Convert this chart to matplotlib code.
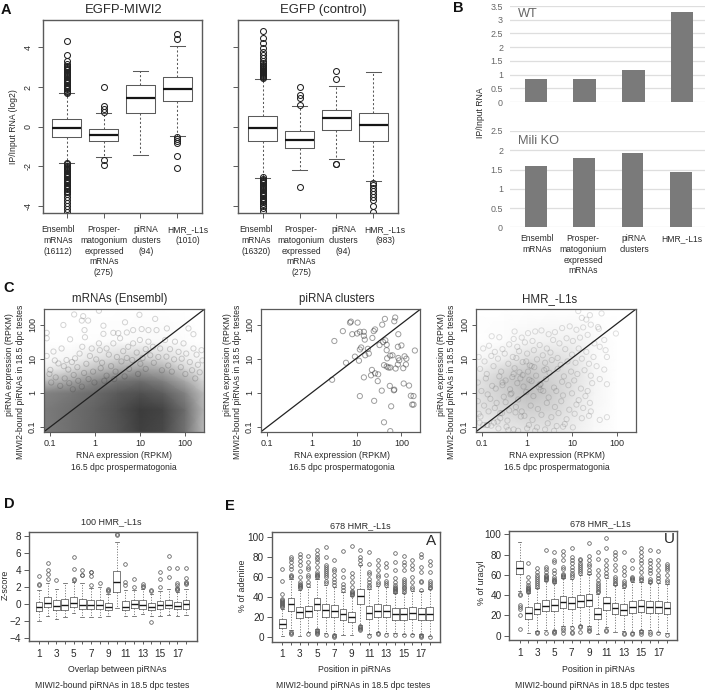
import matplotlib
matplotlib.use('Agg')
import matplotlib.pyplot as plt
from matplotlib.colors import LinearSegmentedColormap
import numpy as np

plt.rcParams['font.family'] = ['Liberation Sans', 'DejaVu Sans']
W, H = 709, 692
INK = '#2a2a2a'
EDGE = '#5a5a5a'

# ---------- Panel A ----------
a1_med = [-0.07, -0.42, 1.43, 1.90]
a1_q1 = [-0.52, -0.72, 0.67, 1.31]
a1_q3 = [0.37, -0.13, 2.08, 2.52]
a1_lo = [-1.83, -1.51, -1.43, -0.45]
a1_hi = [1.70, 0.70, 2.82, 4.07]
a1_fl = [
    [1.70, 1.76, 1.82, 1.88, 1.94, 2.0, 2.06, 2.12, 2.18, 2.24, 2.3, 2.36, 2.42, 2.48, 2.54, 2.6, 2.66, 2.72,
     2.78, 2.84, 2.9, 2.96, 3.02, 3.08, 3.14, 3.3, 3.6, 4.3,
     -1.85, -1.9, -1.96, -2.02, -2.08, -2.14, -2.2, -2.26, -2.32, -2.38, -2.44, -2.5, -2.56, -2.62, -2.68,
     -2.74, -2.8, -2.86, -2.92, -2.98, -3.04, -3.1, -3.16, -3.24, -3.32, -3.42, -3.55, -3.7, -3.85, -4.0, -4.15, -4.3],
    [2.0, 1.04, 0.87, 0.74, -1.68, -1.92],
    [],
    [4.67, 4.44, -0.54, -0.62, -0.70, -0.84, -1.48, -2.07],
]
a2_med = [-0.07, -0.69, 0.45, 0.07]
a2_q1 = [-0.74, -1.08, -0.18, -0.74]
a2_q3 = [0.54, -0.22, 0.82, 0.67]
a2_lo = [-2.60, -2.17, -1.61, -2.76]
a2_hi = [2.42, 1.04, 2.07, 2.74]
a2_fl = [
    [2.45, 2.5, 2.55, 2.6, 2.65, 2.7, 2.75, 2.8, 2.85, 2.9, 2.95, 3.0, 3.05, 3.1, 3.2, 3.3, 3.45, 3.6, 3.75, 3.95, 4.2, 4.45, 4.8,
     -2.55, -2.62, -2.68, -2.74, -2.8, -2.86, -2.92, -2.98, -3.04, -3.1, -3.16, -3.22, -3.28, -3.34, -3.4, -3.46,
     -3.52, -3.58, -3.64, -3.7, -3.76, -3.82, -3.9, -4.0, -4.12, -4.25],
    [2.0, 1.6, 1.43, 1.1, -3.06],
    [2.79, 2.39, -1.87, -1.9],
    [-2.82, -2.95, -3.1, -3.25, -3.4, -3.55, -3.7, -4.0, -4.3],
]
a1_labels = ['Ensembl\nmRNAs\n(16112)', 'Prosper-\nmatogonium\nexpressed\nmRNAs\n(275)',
             'piRNA\nclusters\n(94)', 'HMR_-L1s\n(1010)']
a2_labels = ['Ensembl\nmRNAs\n(16320)', 'Prosper-\nmatogonium\nexpressed\nmRNAs\n(275)',
             'piRNA\nclusters\n(94)', 'HMR_-L1s\n(983)']

# ---------- Panel B ----------
b_labels = ['Ensembl\nmRNAs', 'Prosper-\nmatogonium\nexpressed\nmRNAs', 'piRNA\nclusters', 'HMR_-L1s']
wt_vals = [0.83, 0.83, 1.16, 3.27]
ko_vals = [1.60, 1.81, 1.92, 1.43]
wt_ticks = [0, 0.5, 1, 1.5, 2, 2.5, 3, 3.5]
ko_ticks = [0, 0.5, 1, 1.5, 2, 2.5]

# ---------- Panel C: read-off density (0-1 darkness) on log10 grid ----------
grid_lx = [-1.15, -0.5, 0.0, 0.5, 1.0, 1.5, 2.0, 2.43]
grid_ly = [-1.15, -0.5, 0.0, 0.35, 0.7, 1.0, 1.5, 2.46]
m_density = [
    [0.62, 0.68, 0.74, 0.80, 0.90, 0.86, 0.66, 0.32],
    [0.62, 0.68, 0.74, 0.82, 0.92, 0.88, 0.68, 0.34],
    [0.58, 0.64, 0.70, 0.78, 0.82, 0.76, 0.58, 0.30],
    [0.30, 0.42, 0.55, 0.64, 0.68, 0.60, 0.40, 0.18],
    [0.08, 0.18, 0.30, 0.38, 0.44, 0.38, 0.20, 0.08],
    [0.02, 0.05, 0.14, 0.20, 0.24, 0.18, 0.08, 0.03],
    [0.00, 0.00, 0.01, 0.02, 0.03, 0.03, 0.01, 0.00],
    [0.00, 0.00, 0.00, 0.00, 0.00, 0.00, 0.00, 0.00],
]
h_density = [
    [0.06, 0.10, 0.12, 0.12, 0.08, 0.03, 0.00, 0.00],
    [0.12, 0.18, 0.22, 0.20, 0.12, 0.04, 0.00, 0.00],
    [0.14, 0.22, 0.30, 0.24, 0.14, 0.05, 0.00, 0.00],
    [0.12, 0.24, 0.30, 0.22, 0.15, 0.05, 0.00, 0.00],
    [0.06, 0.18, 0.24, 0.20, 0.14, 0.04, 0.00, 0.00],
    [0.03, 0.08, 0.16, 0.16, 0.12, 0.03, 0.00, 0.00],
    [0.00, 0.02, 0.05, 0.07, 0.07, 0.03, 0.00, 0.00],
    [0.00, 0.00, 0.00, 0.00, 0.00, 0.00, 0.00, 0.00],
]
m_lx = [0.08, 0.98, -0.47, -0.27, -0.16, -0.30, -0.24, -0.23, 0.66, 1.33, -0.71, 0.18, 0.18, 0.40, -1.08, -1.08,
        2.07, 2.18, 1.59, 1.36, 1.18, 1.03, 0.84, 0.70, 0.51, 0.55, -0.56, 0.08, -0.29, -0.75, -0.93, -1.08,
        2.36, 2.18, 1.96, 1.77, 1.55, 1.18, 0.99, 0.84, 0.73, 0.40, 0.25, 0.10, -0.08, -0.45, -0.64, -0.82, -1.0,
        0.62, 0.92, 1.12, 1.28, 1.44, 1.66, 1.85, 2.02, 2.25, 2.38, 0.30, 0.48, 0.70, -0.12, -0.35, -0.52, -0.70,
        -0.90, -1.02, 0.15, 0.02, -0.20, -0.40, -0.60, 0.82, 1.05, 1.22, 1.40, 1.58, 1.75, 1.92, 2.10, 2.28,
        0.58, 0.35, 0.12, -0.05, -0.25, -0.48, -0.68, -0.88, 1.0, 1.3, 1.62, 1.9, 2.15, 2.32, 0.75, 0.45, 0.25,
        -0.15, -0.38, -0.58, -0.78, -0.98, 1.12, 1.48, 1.7, 2.0, 2.22, 0.95, 0.65, -0.02, -0.3, -0.5, 0.2, 0.42]
m_ly = [2.41, 2.29, 2.30, 2.25, 2.12, 2.12, 1.84, 1.63, 2.07, 2.17, 1.99, 1.97, 1.73, 1.76, 1.76, 1.60,
        1.89, 1.72, 1.89, 1.84, 1.84, 1.87, 1.84, 1.77, 1.75, 1.60, 1.57, 1.45, 1.35, 1.30, 1.21, 1.08,
        1.25, 1.30, 1.45, 1.50, 1.55, 1.50, 1.55, 1.45, 1.35, 1.45, 1.30, 1.25, 1.30, 1.01, 0.96, 0.86, 0.67,
        1.22, 1.18, 1.28, 1.35, 1.30, 1.28, 1.20, 1.15, 1.12, 0.95, 1.12, 1.05, 1.02, 1.08, 1.15, 0.90, 0.78,
        0.95, 0.55, 0.88, 0.98, 0.85, 0.75, 0.68, 0.96, 1.02, 1.10, 1.05, 1.06, 0.98, 1.00, 0.90, 0.82,
        0.92, 0.78, 0.72, 0.62, 0.58, 0.52, 0.42, 0.45, 0.85, 0.88, 0.80, 0.75, 0.66, 0.60, 0.70, 0.62, 0.50,
        0.40, 0.35, 0.28, 0.20, 0.30, 0.70, 0.66, 0.62, 0.55, 0.42, 0.55, 0.48, 0.30, 0.18, 0.10, 0.35, 0.40]
c_lx = [0.85, 0.87, 1.02, 0.69, 1.16, 0.90, 1.01, 1.07, 1.16, 1.35, 1.18, 1.41, 1.38, 0.50, 1.63, 1.57, 1.86, 1.84,
        1.93, 1.64, 1.59, 1.51, 1.67, 1.92, 2.00, 2.30, 1.10, 1.07, 1.25, 1.67, 1.80, 1.75, 1.19, 1.27, 0.96, 1.05,
        0.76, 1.68, 1.93, 1.95, 2.07, 2.11, 2.10, 1.61, 1.67, 1.71, 1.75, 1.87, 2.04, 1.92, 1.34, 1.41, 1.48, 1.32,
        1.16, 1.47, 0.45, 1.56, 1.74, 1.84, 1.83, 2.05, 2.17, 2.21, 2.27, 1.07, 1.39, 1.77, 2.24, 2.27, 1.61, 1.75]
c_ly = [2.06, 2.09, 2.06, 1.81, 1.79, 1.72, 1.74, 1.79, 1.67, 1.61, 1.56, 1.86, 1.81, 1.52, 2.17, 2.00, 2.21, 2.10,
        1.72, 1.54, 1.49, 1.40, 1.41, 1.35, 1.39, 1.24, 1.33, 1.27, 1.29, 1.25, 1.10, 1.09, 1.10, 1.15, 1.06, 0.94,
        0.88, 1.01, 1.02, 0.95, 1.07, 1.00, 0.83, 0.81, 0.77, 0.74, 0.74, 0.71, 0.72, 0.83, 0.67, 0.57, 0.54, 0.51,
        0.45, 0.34, 0.38, 0.06, 0.20, 0.09, 0.07, 0.27, 0.21, -0.09, -0.10, -0.10, -0.24, -0.40, -0.35, -0.35, -0.87, -1.13]
h_lx = [1.14, 1.40, 1.66, 1.22, 1.32, 1.58, 1.98, -0.79, -0.62, -0.28, -0.30, -0.12, 0.02, 0.18, 0.32, 0.48, 0.62, 0.78,
        0.95, 1.10, 1.25, 1.42, 1.60, 1.72, 1.75, 1.78, -0.98, -0.85, -0.72, -0.55, -0.40, -0.22, -0.05, 0.12, 0.28,
        0.44, 0.58, 0.72, 0.88, 1.02, 1.18, 1.35, 1.50, 1.62, -1.08, -0.95, -0.80, -0.65, -0.50, -0.32, -0.18, 0.0,
        0.15, 0.35, 0.52, 0.68, 0.85, 1.0, 1.15, 1.32, 1.48, -1.05, -0.90, -0.75, -0.58, -0.42, -0.28, -0.10, 0.06,
        0.22, 0.40, 0.55, 0.75, 0.90, 1.08, 1.22, 1.38, 1.55, 1.72, -1.10, -0.92, -0.78, -0.62, -0.48, -0.30, -0.15,
        0.02, 0.20, 0.38, 0.50, 0.68, 0.82, 0.98, 1.12, 1.28, 1.42, 1.62, 1.78, -1.02, -0.88, -0.70, -0.55, -0.38,
        -0.22, -0.08, 0.10, 0.28, 0.42, 0.60, 0.78, 0.92, 1.05, 1.20, 1.35, 1.45, -1.10, -0.96, -0.82, -0.68, -0.52,
        -0.35, -0.20, -0.02, 0.14, 0.30, 0.48, 0.65, 0.80, 1.0, 1.15, 1.30, 1.40, -1.04, -0.86, -0.72, -0.56, -0.40,
        -0.25, -0.12, 0.08, 0.24, 0.44, 0.62, 0.76, 0.94, 1.10, 1.25, 1.42, -1.08, -0.90, -0.74, -0.60, -0.44, -0.26,
        -0.06, 0.12, 0.32, 0.54, 0.70, 0.88, 1.06, 1.22, 1.38, 1.62, 1.78, -0.98, -0.80, -0.64, -0.46, -0.30, -0.14,
        0.04, 0.22, 0.46, 0.66, 0.84, 1.02, -1.06, -0.88, -0.66, -0.42, -0.20, 0.0, 0.18, 0.40, 0.6, 0.8,
        -0.55, -0.33, -0.17, 0.05, 0.26, 0.43, -0.37, -0.1, 0.1, 0.3, -0.48, -0.24, 0.16, 0.36, -0.6, -0.02]
h_ly = [2.40, 2.28, 2.33, 2.20, 2.15, 1.93, 1.74, 1.66, 1.63, 1.80, 1.58, 1.62, 1.75, 1.80, 1.83, 1.72, 1.78, 1.90,
        1.95, 1.85, 1.92, 2.0, 1.88, 1.55, 1.25, 1.05, 1.30, 1.38, 1.20, 1.28, 1.42, 1.35, 1.48, 1.52, 1.40,
        1.30, 1.55, 1.45, 1.60, 1.52, 1.62, 1.70, 1.45, 1.35, 1.05, 0.92, 1.08, 1.00, 1.15, 1.05, 1.22, 1.15,
        1.25, 1.10, 1.18, 1.02, 1.28, 1.12, 1.30, 1.20, 1.05, 0.70, 0.55, 0.78, 0.62, 0.85, 0.72, 0.90, 0.80,
        0.98, 0.88, 0.96, 0.82, 0.92, 0.88, 1.0, 0.85, 0.78, 0.68, 0.30, 0.42, 0.20, 0.48, 0.36, 0.55, 0.42,
        0.62, 0.50, 0.66, 0.58, 0.70, 0.48, 0.62, 0.55, 0.66, 0.50, 0.40, 0.25, 0.05, -0.05, 0.12, 0.22, 0.10,
        0.28, 0.18, 0.34, 0.24, 0.40, 0.15, 0.32, 0.22, 0.36, 0.12, 0.05, 0.28, -0.25, -0.38, -0.18, -0.30, -0.12,
        -0.02, -0.20, 0.02, -0.10, 0.08, -0.14, 0.05, -0.08, -0.02, -0.22, -0.10, -0.30, -0.70, -0.55, -0.45, -0.60, -0.52,
        -0.42, -0.55, -0.38, -0.48, -0.30, -0.42, -0.25, -0.50, -0.35, -0.45, -0.55, -0.62, -0.95, -0.88, -0.75, -0.82, -0.58,
        -0.68, -0.80, -0.65, -0.72, -0.60, -0.78, -0.62, -0.75, -0.68, -0.80, -0.72, -0.95, -0.97, -1.05, -1.0, -1.08, -0.70,
        -0.95, -1.02, -0.90, -0.98, -0.92, -1.02, -0.88, -0.95, -0.85, -1.1, -1.12, -1.05, -1.12, -1.08, -1.12, -1.0,
        0.30, 0.46, 0.60, 0.38, 0.16, 0.70, -0.05, 0.52, 0.78, 0.25, -0.28, 1.02, 0.75, 0.05, -0.6, 0.92]

# ---------- Panel D ----------
d_med = [-0.35, 0.1, -0.3, -0.1, 0.15, -0.1, -0.2, -0.15, -0.4, 2.6, -0.35, 0.0, -0.1, -0.35, -0.2, -0.1, -0.3, 0.0]
d_q1 = [-0.9, -0.4, -0.75, -0.75, -0.4, -0.6, -0.6, -0.65, -0.75, 1.35, -0.7, -0.45, -0.6, -0.7, -0.6, -0.55, -0.65, -0.6]
d_q3 = [0.25, 0.8, 0.45, 0.55, 0.85, 0.6, 0.4, 0.5, 0.15, 3.9, 0.35, 0.5, 0.4, 0.1, 0.35, 0.4, 0.25, 0.4]
d_lo = [-2.0, -1.5, -1.85, -1.6, -1.05, -1.55, -1.55, -1.55, -1.5, -0.5, -1.45, -1.5, -1.2, -1.45, -1.4, -1.3, -1.5, -1.3]
d_hi = [1.65, 2.5, 1.7, 2.5, 2.6, 2.4, 1.9, 2.0, 1.2, 7.25, 1.6, 1.6, 1.7, 1.1, 1.5, 1.7, 1.4, 1.8]
d_fl = [[2.2, 2.3, 3.3], [2.9, 3.5, 4.0, 4.85], [2.8], [], [2.8, 2.9, 4.1, 5.5], [3.4, 3.45, 4.0],
        [2.25, 3.25, 3.7, 3.8], [2.4], [1.55, 1.6, 1.7], [8.1, 8.2], [2.2, 2.6, 4.7], [2.0, 2.9],
        [2.0, 2.1, 2.3], [1.5, 1.6, -2.1], [2.0, 2.9, 3.75], [3.2, 4.25, 5.6],
        [1.6, 1.75, 1.9, 2.2, 2.5, 4.25], [2.3, 2.5, 2.6, 3.1, 4.2]]

# ---------- Panel E (adenine) ----------
e_med = [13, 33, 25, 26, 33, 27, 26, 23, 20, 41, 24, 26, 26, 23, 23, 24, 23, 23]
e_q1 = [9, 26, 19, 20, 27, 20, 20, 17, 15, 33, 18, 20, 20, 17, 17, 18, 17, 17]
e_q3 = [18, 39, 30, 31, 39, 33, 32, 28, 25, 48, 31, 33, 32, 29, 29, 30, 29, 30]
e_lo = [1, 7, 1, 5, 8, 4, 3, 2, 2, 12, 3, 5, 4, 4, 3, 3, 3, 1]
e_hi = [28, 58, 47, 50, 58, 52, 50, 45, 41, 72, 48, 51, 50, 44, 44, 46, 46, 48]
e_fl = [[30, 31, 32, 33, 34, 35, 36, 37, 38, 43, 56, 68],
        [60, 61, 62, 68, 71, 75, 78, 80, 3, 4, 5],
        [49, 50, 51, 52, 53, 55, 60, 66, 72, 76, 80, 83],
        [52, 55, 60, 62, 68, 70, 75, 81, 3],
        [60, 61, 62, 63, 65, 70, 75, 78, 80, 83, 87, 3, 4, 5, 6, 7],
        [54, 56, 60, 62, 64, 66, 68, 70, 72, 80, 90, 2],
        [52, 55, 58, 62, 66, 68, 77, 0, 1, 2],
        [47, 50, 53, 60, 67, 86],
        [42, 43, 44, 45, 46, 50, 55, 60, 64, 91],
        [73, 77, 80, 87, 7, 8, 9, 10, 11],
        [50, 52, 55, 58, 63, 65, 73, 85, 1],
        [53, 55, 60, 62, 67, 72, 77, 3, 4],
        [52, 54, 56, 62, 70, 74, 2],
        [45, 46, 47, 48, 49, 50, 52, 55, 59, 67, 75, 84, 2],
        [45, 47, 49, 50, 52, 54, 56, 58, 67, 72, 75, 81, 2],
        [48, 50, 55, 60, 68, 72, 77, 2],
        [47, 55, 56, 65, 70, 80, 83, 0, 1, 2],
        [49, 50, 52, 54, 56, 65, 72, 76, 0]]

# ---------- Panel E (uracil) ----------
u_med = [67, 22, 26, 29, 30, 33, 32, 34, 35, 21, 32, 27, 25, 28, 29, 28, 28, 27]
u_q1 = [61, 17, 21, 24, 24, 27, 26, 28, 29, 17, 25, 21, 20, 22, 23, 22, 22, 21]
u_q3 = [74, 28, 32, 35, 36, 39, 38, 40, 41, 27, 38, 32, 31, 34, 35, 34, 34, 33]
u_lo = [44, 3, 5, 6, 6, 10, 10, 11, 10, 2, 9, 4, 5, 4, 6, 6, 4, 3]
u_hi = [92, 42, 47, 54, 52, 57, 56, 60, 61, 41, 57, 50, 47, 53, 53, 52, 52, 51]
u_fl = [[41, 40, 30, 28, 26, 20, 7],
        [43, 44, 45, 46, 47, 48, 50, 53, 58, 72],
        [48, 50, 52, 54, 56, 58, 60, 63, 67, 3, 4],
        [55, 56, 57, 58, 59, 60, 63, 66, 68, 85, 3],
        [53, 54, 55, 56, 58, 62, 65, 73, 75, 83, 3, 4, 5],
        [58, 59, 60, 61, 66, 68, 75, 80, 84, 3, 6, 8],
        [58, 60, 62, 65, 68, 72, 75, 78, 87, 3, 4, 8],
        [62, 64, 66, 68, 70, 72, 75, 76, 4, 9, 10],
        [62, 65, 69, 71, 75, 79, 91, 5, 6, 8],
        [43, 44, 46, 48, 50, 52, 55, 60, 65, 76, 83],
        [59, 62, 66, 70, 75, 87, 96, 5, 6],
        [51, 52, 54, 56, 58, 65, 70, 76, 80, 83],
        [49, 50, 52, 54, 60, 64, 68, 83, 2, 3],
        [55, 56, 57, 58, 67, 75, 2, 3],
        [55, 56, 58, 63, 67, 72, 75, 79, 83, 87, 2, 4, 5],
        [53, 54, 56, 62, 65, 68, 72, 75, 85, 2, 4],
        [54, 57, 60, 65, 70, 75, 84, 3],
        [53, 55, 60, 65, 67, 69, 71, 1]]

fig = plt.figure(figsize=(W / 100, H / 100), dpi=100)


def axpx(l, t, r, b):
    return fig.add_axes([l / W, 1 - b / H, (r - l) / W, (b - t) / H])


def T(x, y, s, size=6.2, color=INK, ha='center', va='center', **kw):
    fig.text(x / W, 1 - y / H, s, fontsize=size, color=color, ha=ha, va=va, **kw)


def boxes(ax, med, q1, q3, lo, hi, fl, xlim, ylim, fsize, lw, medlw, wid=0.8, fcolor=EDGE, dash=(2, 2)):
    stats = [dict(med=m, q1=a, q3=b, whislo=c, whishi=d, fliers=f)
             for m, a, b, c, d, f in zip(med, q1, q3, lo, hi, fl)]
    ax.bxp(stats, positions=range(1, len(med) + 1), widths=wid, showfliers=True,
           boxprops=dict(color=EDGE, lw=lw),
           medianprops=dict(color='#151515', lw=medlw, solid_capstyle='butt'),
           whiskerprops=dict(color=EDGE, lw=lw, linestyle=(0, dash)),
           capprops=dict(color=EDGE, lw=lw),
           capwidths=0.4,
           flierprops=dict(marker='o', mfc='none', mec=fcolor, ms=fsize, mew=lw))
    ax.set_xlim(*xlim)
    ax.set_ylim(*ylim)
    for s in ax.spines.values():
        s.set_color(EDGE)
        s.set_linewidth(1.0)
    ax.tick_params(length=3.6, width=0.7, color=EDGE, labelcolor=INK)


# --- A ---
a_xlim = (0.344, 4.656)
a_ylim = (-4.34, 5.38)
axA1 = axpx(42.5, 20, 201.5, 212.7)
boxes(axA1, a1_med, a1_q1, a1_q3, a1_lo, a1_hi, a1_fl, a_xlim, a_ylim, 4.3, 0.75, 1.6, fcolor='#222222')
axA2 = axpx(238.3, 20, 397.7, 212.7)
boxes(axA2, a2_med, a2_q1, a2_q3, a2_lo, a2_hi, a2_fl, a_xlim, a_ylim, 4.3, 0.75, 1.6, fcolor='#222222')
for ax in (axA1, axA2):
    ax.set_xticks([1, 2, 3, 4])
    ax.set_xticklabels([])
    ax.set_yticks([-4, -2, 0, 2, 4])
axA1.set_yticklabels(['-4', '-2', '0', '2', '4'], rotation=90, va='center', fontsize=6.4)
axA2.set_yticklabels([])
T(123.7, 10, 'EGFP-MIWI2', size=9.4)
T(323, 10, 'EGFP (control)', size=9.4)
T(13.7, 126.7, 'IP/Input RNA (log2)', size=6.2, rotation=90)
for x, s in zip([58.3, 104, 146, 188], a1_labels):
    T(x, 225, s, size=6.15, va='top', linespacing=1.25)
for x, s in zip([255.7, 301, 343.3, 385.3], a2_labels):
    T(x, 225, s, size=6.15, va='top', linespacing=1.25)

# --- B ---
bar_x = [1, 2, 3, 4]
axB1 = axpx(510, 6, 705, 102)
axB1.bar(bar_x, wt_vals, width=0.465, color='#7a7a7a', zorder=3)
axB1.set_ylim(0, 3.5)
axB1.set_yticks(wt_ticks)
axB1.set_yticklabels(['0', '0.5', '1', '1.5', '2', '2.5', '3', '3.5'])
axB1.set_xlim(0.467, 4.47)
axB2 = axpx(510, 131, 705, 227.3)
axB2.bar(bar_x, ko_vals, width=0.45, color='#7a7a7a', zorder=3)
axB2.set_ylim(0, 2.5)
axB2.set_yticks(ko_ticks)
axB2.set_yticklabels(['0', '0.5', '1', '1.5', '2', '2.5'])
axB2.set_xlim(0.46, 4.5)
for ax in (axB1, axB2):
    ax.grid(axis='y', color='#dedede', lw=0.9, zorder=0)
    ax.set_xticks([])
    ax.tick_params(length=0, labelsize=6.4, labelcolor='#666666', pad=5)
    for s in ax.spines.values():
        s.set_visible(False)
T(517.7, 14, 'WT', size=9.2, color='#666666', ha='left')
T(517.7, 141, 'Mili KO', size=9.2, color='#666666', ha='left')
T(481, 113, 'IP/Input RNA', size=6.2, rotation=90)
for x, s in zip([537, 583, 634, 682], b_labels):
    T(x, 234, s, size=6.15, va='top', linespacing=1.25)

# --- C ---
c_xlim = (0.0724, 264)
c_ylim = (0.0713, 283)
ramp = LinearSegmentedColormap.from_list('ramp', ['#ffffff', '#2b2b2b'])


def scatter_panel(l, r, lx, ly, alpha, density=None):
    ax = axpx(l, 309.3, r, 431.7)
    ax.set_xscale('log')
    ax.set_yscale('log')
    if density is not None:
        ax.pcolormesh(10.0 ** np.array(grid_lx), 10.0 ** np.array(grid_ly), np.array(density),
                      shading='gouraud', cmap=ramp, vmin=0, vmax=1, rasterized=True)
    ax.scatter(10.0 ** np.array(lx), 10.0 ** np.array(ly), s=14, facecolors='none',
               edgecolors=(0.15, 0.15, 0.15, alpha), linewidths=0.7, clip_on=True)
    ax.plot(c_xlim, c_ylim, color='#222222', lw=0.9)
    ax.set_xlim(*c_xlim)
    ax.set_ylim(*c_ylim)
    ax.set_xticks([0.1, 1, 10, 100])
    ax.set_xticklabels(['0.1', '1', '10', '100'], fontsize=6.5)
    ax.set_yticks([0.1, 1, 10, 100])
    ax.set_yticklabels(['0.1', '1', '10', '100'], rotation=90, va='center', fontsize=6.5)
    ax.minorticks_off()
    ax.tick_params(length=3, width=0.7, color=EDGE, labelcolor=INK, pad=2)
    for s in ax.spines.values():
        s.set_color(EDGE)
        s.set_linewidth(0.9)
    return ax


scatter_panel(44, 204.3, m_lx, m_ly, 0.2, m_density)
scatter_panel(261, 420.3, c_lx, c_ly, 0.45)
scatter_panel(476, 635.7, h_lx, h_ly, 0.15, h_density)
for cx, s in zip([120, 337, 550], ['mRNAs (Ensembl)', 'piRNA clusters', 'HMR_-L1s']):
    T(cx, 299, s, size=8.3)
for x1, x2 in zip([9.3, 228, 441.7], [20.7, 238, 451.7]):
    T(x1, 365, 'piRNA expression (RPKM)', size=6.2, rotation=90)
    T(x2, 381.7, 'MIWI2-bound piRNAs in 18.5 dpc testes', size=6.2, rotation=90)
for cx in [124, 342, 557]:
    T(cx, 456, 'RNA expression (RPKM)', size=6.2)
    T(cx, 467, '16.5 dpc prospermatogonia', size=6.2)

# --- D, E ---
pos_ticks = [1, 3, 5, 7, 9, 11, 13, 15, 17]
axD = axpx(28.7, 532.3, 196.7, 641.3)
boxes(axD, d_med, d_q1, d_q3, d_lo, d_hi, d_fl, (-0.19, 19.24), (-4.43, 8.44), 2.6, 0.55, 1.0, dash=(1.5, 2))
axD.set_yticks([-4, -2, 0, 2, 4, 6, 8])
axE = axpx(272, 532.3, 439.7, 641.7)
boxes(axE, e_med, e_q1, e_q3, e_lo, e_hi, e_fl, (-0.19, 19.15), (-4.4, 104.4), 2.6, 0.55, 1.0, dash=(1.5, 2))
axE.set_yticks([0, 20, 40, 60, 80, 100])
axU = axpx(509.3, 531, 676.7, 640.3)
boxes(axU, u_med, u_q1, u_q3, u_lo, u_hi, u_fl, (-0.2, 19.12), (-4.5, 103.3), 2.6, 0.55, 1.0, dash=(1.5, 2))
axU.set_yticks([0, 20, 40, 60, 80, 100])
for ax in (axD, axE, axU):
    ax.set_xticks(range(1, 19))
    ax.set_xticklabels([str(i) if i in pos_ticks else '' for i in range(1, 19)], fontsize=7.2)
    ax.tick_params(axis='y', labelsize=7.2, pad=2)
    ax.tick_params(axis='x', pad=3, length=2.5)
T(111.7, 522, '100 HMR_-L1s', size=6.5)
T(360, 525.7, '678 HMR_-L1s', size=6.5)
T(600.7, 524, '678 HMR_-L1s', size=6.5)
T(430.7, 541, 'A', size=11)
T(669, 539, 'U', size=11)
T(5, 585, 'Z-score', size=6.4, rotation=90)
T(242.3, 586, '% of adenine', size=6.4, rotation=90)
T(481.7, 583, '% of uracyl', size=6.4, rotation=90)
T(117.7, 670, 'Overlap between piRNAs', size=6.3)
T(354.3, 670, 'Position in piRNAs', size=6.3)
T(598, 669, 'Position in piRNAs', size=6.3)
T(111.7, 686, 'MIWI2-bound piRNAs in 18.5 dpc testes', size=6.2)
T(352.7, 686, 'MIWI2-bound piRNAs in 18.5 dpc testes', size=6.2)
T(591.7, 685, 'MIWI2-bound piRNAs in 18.5 dpc testes', size=6.2)

# panel letters
for x, y, s in [(5.5, 10, 'A'), (458, 8, 'B'), (9, 288, 'C'), (9, 504, 'D'), (230, 506, 'E')]:
    T(x, y, s, size=10.5, color='#111111', fontweight='bold')

fig.savefig('out.png', dpi=100)
